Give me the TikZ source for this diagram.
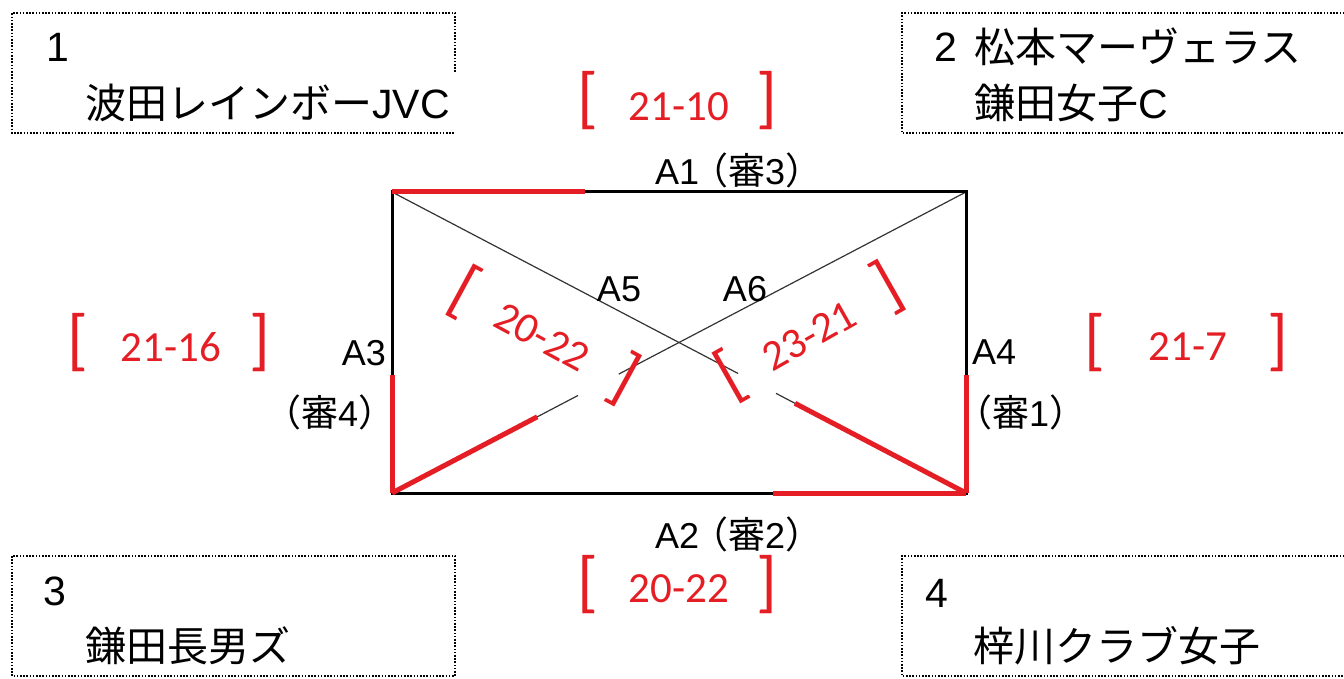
\documentclass[tikz,border=0pt]{standalone}
\usepackage{fontspec}
\setmainfont{Liberation Sans}
\newfontfamily\jp{Noto Sans CJK JP}
\newfontfamily\scorefnt{Carlito}
\usetikzlibrary{calc}
\definecolor{myred}{RGB}{228,30,36}
\newcommand{\jpm}[1]{{\jp\fontsize{37}{37}\selectfont #1}}
\begin{document}
\begin{tikzpicture}[x=1pt,y=-1pt,
  teambox/.style={draw=black, line width=1.3pt, dash pattern=on 1.6pt off 1.6pt},
  big/.style={inner sep=0pt, font=\fontsize{41}{41}\selectfont},
  mid/.style={inner sep=0pt, font=\fontsize{36}{36}\selectfont},
  score/.style={inner sep=0pt, text=myred, font=\scorefnt\fontsize{43}{43}\selectfont},
  brk/.style={inner sep=0pt, text=myred, font=\scorefnt\fontsize{68}{68}\selectfont},
  court/.style={line width=3pt, draw=black},
  hit/.style={line width=5pt, draw=myred},
  diagl/.style={line width=1.2pt, draw=black!80},
]
\useasboundingbox (0,0) rectangle (1344,679);
% team boxes
\draw[teambox] (455,72) -- (455,13) -- (12,13) -- (12,133) -- (455,133);
\draw[teambox] (1370,13) -- (902,13) -- (902,133) -- (1370,133);
\draw[teambox] (12,556) rectangle (455,676);
\draw[teambox] (1370,556) -- (902,556) -- (902,676) -- (1370,676);
\node[big, anchor=base west] (n1) at (46,62) {1};
\node[big, anchor=base west] (t1) at (85,119) {{\jp 波田レインボー}JVC};
\node[big, anchor=base west] (n2) at (934,62) {2};
\node[big, anchor=base west] (t2a) at (974,63) {\jp 松本マーヴェラス};
\node[big, anchor=base west] (t2b) at (974,119) {{\jp 鎌田女子}C};
\node[big, anchor=base west] (n3) at (43,605) {3};
\node[big, anchor=base west] (t3) at (85,661) {\jp 鎌田長男ズ};
\node[big, anchor=base west] (n4) at (925,607) {4};
\node[big, anchor=base west] (t4) at (973,661) {\jp 梓川クラブ女子};
% court
\coordinate (TL) at (392,192);
\coordinate (TR) at (966,192);
\coordinate (BL) at (392,493);
\coordinate (BR) at (966,493);
\draw[diagl] (TL) -- ($(TL)!0.603!(BR)$);
\draw[diagl] ($(TL)!0.669!(BR)$) -- (BR);
\draw[diagl] (BL) -- ($(BL)!0.324!(TR)$);
\draw[diagl] ($(BL)!0.395!(TR)$) -- (TR);
\draw[court] (TL) rectangle (BR);
\draw[hit] (TL) -- ($(TL)!0.336!(TR)$);
\draw[hit] ($(BL)!0.664!(BR)$) -- (BR);
\draw[hit] ($(TL)!0.608!(BL)$) -- (BL);
\draw[hit] ($(TR)!0.608!(BR)$) -- (BR);
\draw[hit] ($(TL)!0.702!(BR)$) -- (BR);
\draw[hit] (BL) -- ($(BL)!0.253!(TR)$);
% court labels
\node[mid, anchor=base west] (a1) at (655,185) {A1\kern-8pt\jpm{（審}3\jpm{）}};
\node[mid, anchor=base west] (a2) at (655,548) {A2\kern-8pt\jpm{（審}2\jpm{）}};
\node[mid, anchor=base east] (a3) at (386,365) {A3};
\node[mid, anchor=base west] (r4) at (264,426) {\jpm{（審}4\jpm{）}};
\node[mid, anchor=base west] (a4) at (972,364) {A4};
\node[mid, anchor=base west] (r1) at (955,426) {\jpm{（審}1\jpm{）}};
\node[mid] (a5) at (619,289) {A5};
\node[mid] (a6) at (745,289) {A6};
% scores
\node[brk] (s1l) at (588,101) {[};
\node[brk] (s1r) at (767,101) {]};
\node[score] (s1) at (679,107) {21-10};
\node[brk] (s2l) at (588,585) {[};
\node[brk] (s2r) at (767,585) {]};
\node[score] (s2) at (679,589) {20-22};
\node[brk] (s3l) at (78,343) {[};
\node[brk] (s3r) at (260,343) {]};
\node[score] (s3) at (171,347) {21-16};
\node[brk] (s4l) at (1095,343) {[};
\node[brk] (s4r) at (1278,343) {]};
\node[score] (s4) at (1188,347) {21-7};
\node[brk, rotate=-28.5] (s5l) at (464,292) {[};
\node[brk, rotate=-28.5] (s5r) at (624,379) {]};
\node[score, rotate=-28.5] (s5) at (542,337) {20-22};
\node[brk, rotate=29.5] (s6l) at (731,376) {[};
\node[brk, rotate=29.5] (s6r) at (888,287) {]};
\node[score, rotate=29.5] (s6) at (809,336) {23-21};
\end{tikzpicture}
\end{document}
